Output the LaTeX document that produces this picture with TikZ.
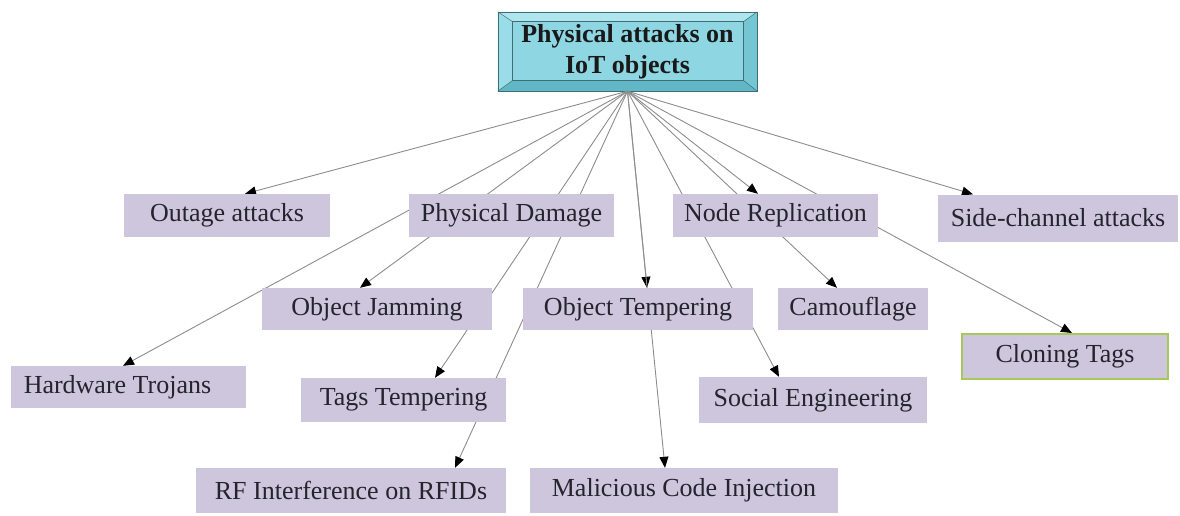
\documentclass[tikz,border=0pt]{standalone}
\usepackage{fontspec}
\setmainfont{Liberation Serif}
\usetikzlibrary{arrows.meta,backgrounds,calc}
\definecolor{boxfill}{HTML}{CEC6DD}
\definecolor{boxtext}{HTML}{24242E}
\definecolor{edgegray}{HTML}{8C8C8C}
\definecolor{cloneborder}{HTML}{A9C85A}
\definecolor{rootface}{HTML}{8DD6E2}
\definecolor{roottop}{HTML}{AFE6EE}
\definecolor{rootleft}{HTML}{9ADDE8}
\definecolor{rootbottom}{HTML}{62B7C6}
\definecolor{rootright}{HTML}{74C6D3}
\definecolor{rootline}{HTML}{3F6C75}
\tikzset{
  box/.style={rectangle, fill=boxfill, text=boxtext, inner sep=0pt,
    minimum height=43pt, font=\fontsize{26pt}{31pt}\selectfont},
  rootbox/.style={rectangle, inner sep=0pt, align=center, text=black!90,
    font=\fontsize{26pt}{31pt}\selectfont\bfseries},
  edge/.style={draw=edgegray, line width=0.9pt,
    -{Triangle[length=11pt,width=9pt,color=black]}},
}
\begin{document}
\begin{tikzpicture}
\useasboundingbox (0,0) rectangle (1180pt,-515pt);

% root
\node[rootbox, minimum width=259pt, minimum height=79pt] (root) at (627.5pt,-51.5pt)
  {Physical attacks on\\IoT objects};

% level boxes
\node[box, minimum width=206pt] (out) at (227pt,-215.5pt) {Outage attacks};
\node[box, minimum width=205pt] (pd)  at (511.5pt,-215.5pt) {Physical Damage};
\node[box, minimum width=205pt] (nr)  at (775.5pt,-215.5pt) {Node Replication};
\node[box, minimum width=240pt, minimum height=47pt] (sc) at (1058pt,-218pt) {Side-channel attacks};
\node[box, minimum width=230pt, minimum height=42pt] (oj) at (377pt,-309pt) {Object Jamming};
\node[box, minimum width=230pt, minimum height=42pt] (ot) at (638pt,-309pt) {Object Tempering};
\node[box, minimum width=150pt, minimum height=42pt] (cam) at (853pt,-309pt) {Camouflage};
\node[box, minimum width=206pt, minimum height=45pt, draw=cloneborder, line width=2pt] (ct) at (1065pt,-356.5pt) {Cloning Tags};
\node[box, minimum width=235pt, minimum height=42pt] (ht) at (128.5pt,-387pt) {\hspace*{-22pt}Hardware Trojans};
\node[box, minimum width=205pt, minimum height=44pt] (tt) at (403.5pt,-400pt) {Tags Tempering};
\node[box, minimum width=228pt, minimum height=46pt] (se) at (813pt,-400pt) {Social Engineering};
\node[box, minimum width=310pt, minimum height=45pt] (rf) at (351pt,-490.5pt) {RF Interference on RFIDs};
\node[box, minimum width=308pt, minimum height=45pt] (mci) at (684pt,-490.5pt) {Malicious Code Injection};

\begin{scope}[on background layer]
  % bevelled root
  \coordinate (iNW) at ([shift={(15pt,-10pt)}]root.north west);
  \coordinate (iNE) at ([shift={(-14pt,-10pt)}]root.north east);
  \coordinate (iSE) at ([shift={(-14pt,11pt)}]root.south east);
  \coordinate (iSW) at ([shift={(15pt,11pt)}]root.south west);
  \fill[roottop] (root.north west) -- (root.north east) -- (iNE) -- (iNW) -- cycle;
  \fill[rootright] (root.north east) -- (root.south east) -- (iSE) -- (iNE) -- cycle;
  \fill[rootbottom] (root.south east) -- (root.south west) -- (iSW) -- (iSE) -- cycle;
  \fill[rootleft] (root.south west) -- (root.north west) -- (iNW) -- (iSW) -- cycle;
  \fill[rootface] (iNW) rectangle (iSE);
  \draw[rootline, line width=0.6pt] (root.north west) rectangle (root.south east);
  \draw[rootline, line width=1pt] (iNW) rectangle (iSE);
  \draw[rootline, line width=0.5pt] (root.north west) -- (iNW)
    (root.north east) -- (iNE) (root.south east) -- (iSE) (root.south west) -- (iSW);

  % connectors
  \draw[edge] (root.south) -- ([xshift=18pt]out.north);
  \draw[edge] (root.south) -- ([xshift=-5.5pt]ht.north);
  \draw[edge] (root.south) -- ([xshift=-17pt]oj.north);
  \draw[edge] (root.south) -- ([xshift=31.5pt]tt.north);
  \draw[edge] (root.south) -- ([xshift=104pt]rf.north);
  \draw[edge] (root.south) -- ([xshift=9pt]ot.north);
  \draw[edge] (root.south) -- ([xshift=-19pt]mci.north);
  \draw[edge] (root.south) -- ([xshift=-34pt]se.north);
  \draw[edge] (root.south) -- ([xshift=-16pt]cam.north);
  \draw[edge] (root.south) -- ([xshift=-17.5pt]nr.north);
  \draw[edge] (root.south) -- ([xshift=7pt]ct.north);
  \draw[edge] (root.south) -- ([xshift=-85pt]sc.north);
\end{scope}
\end{tikzpicture}
\end{document}
